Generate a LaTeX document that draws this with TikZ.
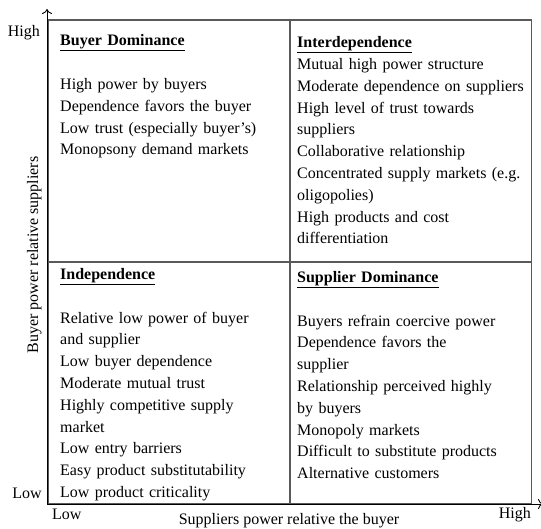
\documentclass[tikz,border=0pt]{standalone}
\usepackage{fontspec}
\setmainfont{Liberation Serif}
\usetikzlibrary{arrows,arrows.meta,positioning}

\begin{document}
\begin{tikzpicture}[x=1pt,y=-1pt]
	\tikzset{quad/.style = {draw=black!65, line width=1.2pt, minimum size=242pt, inner sep=0pt}}
	\tikzset{txt/.style = {anchor=north west, align=left, inner sep=0pt,
			text width=230pt, font=\fontsize{16}{21.8}\selectfont}}
	\tikzset{lbl/.style = {inner sep=0pt, font=\fontsize{16}{19}\selectfont}}
	\tikzset{axis/.style = {-{To[length=5pt,width=10pt]}, line width=0.9pt}}
	\useasboundingbox (0,0) rectangle (541,529);
	% quadrants
	\node[quad] (bd) at (169,141) {};
	\node[quad] (inter) at (410.5,141) {};
	\node[quad] (indep) at (169,383) {};
	\node[quad] (sd) at (410.5,383) {};
	% quadrant texts
	\node[txt] (bdtxt) at (60,34.5) {\underline{\textbf{Buyer Dominance}}\\[22pt]
		High power by buyers\\
		Dependence favors the buyer\\
		Low trust (especially buyer’s)\\
		Monopsony demand markets};
	\node[txt] (intertxt) at (297,36.5) {\underline{\textbf{Interdependence}}\\
		Mutual high power structure\\
		Moderate dependence on suppliers\\
		High level of trust towards\\
		suppliers\\
		Collaborative relationship\\
		Concentrated supply markets (e.g.\\
		oligopolies)\\
		High products and cost\\
		differentiation};
	\node[txt] (indeptxt) at (60,268) {\underline{\textbf{Independence}}\\[22pt]
		Relative low power of buyer\\
		and supplier\\
		Low buyer dependence\\
		Moderate mutual trust\\
		Highly competitive supply\\
		market\\
		Low entry barriers\\
		Easy product substitutability\\
		Low product criticality};
	\node[txt] (sdtxt) at (297,271) {\underline{\textbf{Supplier Dominance}}\\[22pt]
		Buyers refrain coercive power\\
		Dependence favors the\\
		supplier\\
		Relationship perceived highly\\
		by buyers\\
		Monopoly markets\\
		Difficult to substitute products\\
		Alternative customers};
	% axes
	\coordinate (o) at (47,504);
	\coordinate (ytop) at (47,9);
	\coordinate (xend) at (543,504);
	\draw[axis] (o) -- (ytop);
	\draw[axis] (o) -- (xend);
	% axis labels
	\node[lbl, anchor=base east] (yhigh) at (40,37) {High};
	\node[lbl, anchor=base east] (ylow) at (42,498) {Low};
	\node[lbl, anchor=base west] (xlow) at (52,519) {Low};
	\node[lbl, anchor=base east] (xhigh) at (531,518) {High};
	\node[lbl, anchor=base] (xlabel) at (289,524) {Suppliers power relative the buyer};
	\node[lbl, rotate=90, anchor=base] (ylabel) at (38,255) {Buyer power relative suppliers};
\end{tikzpicture}
\end{document}
